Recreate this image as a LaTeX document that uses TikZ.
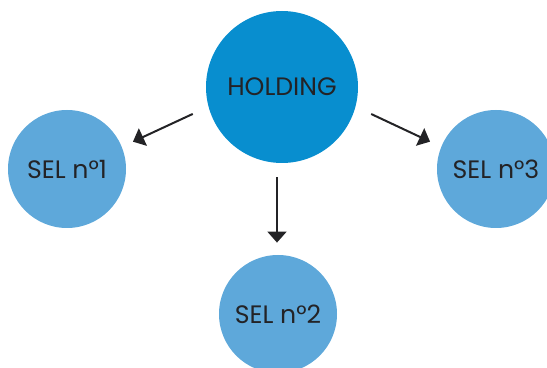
\documentclass[tikz,border=0pt]{standalone}
\usepackage{fontspec}
\setmainfont{Poppins}
\usetikzlibrary{arrows.meta, positioning}
\definecolor{holdblue}{RGB}{8, 142, 207}
\definecolor{selblue}{RGB}{94, 168, 218}
\definecolor{inkgray}{RGB}{35, 35, 38}

\begin{document}
\begin{tikzpicture}[x=0.5pt, y=-0.5pt,
    bigcirc/.style={circle, fill=holdblue, inner sep=0pt, minimum size=76pt, text=inkgray, font=\fontsize{12.6}{14}\selectfont},
    selcirc/.style={circle, fill=selblue, inner sep=0pt, minimum size=59pt, text=inkgray, font=\fontsize{12.6}{14}\selectfont},
    arr/.style={draw=inkgray, line width=1pt, -{Triangle[length=5.5pt, width=9.5pt]}}]
    \useasboundingbox (0,0) rectangle (547,368);
    \begin{scope}
        \clip (0,0) rectangle (547,368);
        \node[bigcirc] (hold) at (282, 87) {HOLDING};
        \node[selcirc] (sel1) at (67, 169) {SEL n°1};
        \node[selcirc] (sel2) at (278, 314) {SEL n°2};
        \node[selcirc] (sel3) at (496, 169) {SEL n°3};
    \end{scope}

    \draw[arr, shorten <=8.5pt, shorten >=6pt] (hold.195) -- (sel1.22);
    \draw[arr, shorten <=8.5pt, shorten >=6pt] (hold.345) -- (sel3.158);
    \draw[arr, shorten <=7pt, shorten >=6pt] ([xshift=-2.5pt]hold.south) -- ([xshift=-0.5pt]sel2.north);
\end{tikzpicture}
\end{document}
